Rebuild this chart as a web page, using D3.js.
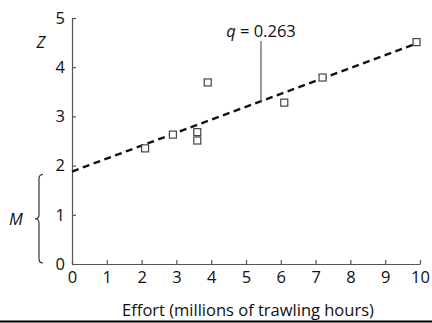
<!DOCTYPE html>
<html>
<head>
<meta charset="utf-8">
<script src="https://cdn.jsdelivr.net/npm/d3@7"></script>
<style>
  body { margin: 0; background: #fff; }
  text { font-family: "Open Sans", sans-serif; fill: #111; }
</style>
</head>
<body>
<div id="content"></div>
<script>
// Chart size
const width = 432;
const height = 323;
const fs = "16.5px";

// Data
const effort = [2.1, 2.9, 3.6, 3.6, 3.9, 6.1, 7.2, 9.9];
const zValues = [2.35, 2.63, 2.68, 2.51, 3.69, 3.28, 3.79, 4.51];
const xTicks = [0, 1, 2, 3, 4, 5, 6, 7, 8, 9, 10];
const yTicks = [0, 1, 2, 3, 4, 5];
const intercept = 1.88;   // M
const slope = 0.263;      // q
const qAt = 5.43;         // where the q label points on the line

const x = d3.scaleLinear().domain([0, 10]).range([72, 420]);
const y = d3.scaleLinear().domain([0, 5]).range([264, 18]);

const svg = d3.select("#content")
  .append("svg")
  .attr("width", width)
  .attr("height", height);

const axisColor = "#555";

// Axes with inward ticks
const xAxis = svg.append("g")
  .attr("transform", `translate(0,${y(0)})`)
  .call(d3.axisBottom(x).tickValues(xTicks).tickFormat(d3.format("d")).tickSize(-4).tickSizeOuter(0));
const yAxis = svg.append("g")
  .attr("transform", `translate(${x(0)},0)`)
  .call(d3.axisLeft(y).tickValues(yTicks).tickFormat(d3.format("d")).tickSize(-4).tickSizeOuter(0));

[xAxis, yAxis].forEach(a => {
  a.attr("font-size", null).attr("font-family", null);
  a.select(".domain").attr("stroke", axisColor).attr("stroke-width", 1.2);
  a.selectAll(".tick line").attr("stroke", axisColor).attr("stroke-width", 1.2);
  a.selectAll(".tick text")
    .style("font-size", fs)
    .attr("fill", "#111");
});
// tick labels sit outside even though the ticks point inward
xAxis.selectAll(".tick text").attr("y", 7).attr("dy", "0.71em");
yAxis.selectAll(".tick text").attr("x", -7);

// Regression line
svg.append("line")
  .attr("x1", x(0)).attr("y1", y(intercept))
  .attr("x2", x(10)).attr("y2", y(intercept + slope * 10))
  .attr("stroke", "#111")
  .attr("stroke-width", 2.4)
  .attr("stroke-dasharray", "7,4.5");

// Data squares
const s = 7;
svg.selectAll("rect.pt")
  .data(effort.map((e, i) => [e, zValues[i]]))
  .enter().append("rect")
  .attr("class", "pt")
  .attr("x", d => x(d[0]) - s / 2)
  .attr("y", d => y(d[1]) - s / 2)
  .attr("width", s)
  .attr("height", s)
  .attr("fill", "#fff")
  .attr("stroke", "#444")
  .attr("stroke-width", 1.2);

// q annotation
svg.append("line")
  .attr("x1", x(qAt)).attr("x2", x(qAt))
  .attr("y1", 41).attr("y2", y(intercept + slope * qAt))
  .attr("stroke", "#666")
  .attr("stroke-width", 1.3);
const qText = svg.append("text")
  .attr("x", x(qAt))
  .attr("y", 37)
  .attr("text-anchor", "middle")
  .style("font-size", fs);
qText.append("tspan").attr("font-style", "italic").text("q");
qText.append("tspan").text(" = " + slope);

// Axis titles
svg.append("text")
  .attr("x", 41).attr("y", y(4.5))
  .attr("text-anchor", "middle")
  .attr("dy", "0.35em")
  .attr("font-style", "italic")
  .style("font-size", fs)
  .text("Z");

svg.append("text")
  .attr("x", 248).attr("y", 316)
  .attr("text-anchor", "middle")
  .style("font-size", fs)
  .text("Effort (millions of trawling hours)");

// Brace for M spanning 0..intercept
const bTop = y(intercept) + 3, bBot = y(0) - 1, bMid = (bTop + bBot) / 2;
const bx = 43, bw = 4;
svg.append("path")
  .attr("d", `M${bx},${bTop} q${-bw},0 ${-bw},${bw} L${bx - bw},${bMid - 4} q0,4 ${-bw},4 q${bw},0 ${bw},4 L${bx - bw},${bBot - bw} q0,${bw} ${bw},${bw}`)
  .attr("fill", "none")
  .attr("stroke", "#222")
  .attr("stroke-width", 1.1);

svg.append("text")
  .attr("x", 16).attr("y", bMid)
  .attr("text-anchor", "middle")
  .attr("dy", "0.35em")
  .attr("font-style", "italic")
  .style("font-size", fs)
  .text("M");

// Bottom rule
svg.append("line")
  .attr("x1", 0).attr("x2", width)
  .attr("y1", 321.5).attr("y2", 321.5)
  .attr("stroke", "#000")
  .attr("stroke-width", 2);
</script>
</body>
</html>
